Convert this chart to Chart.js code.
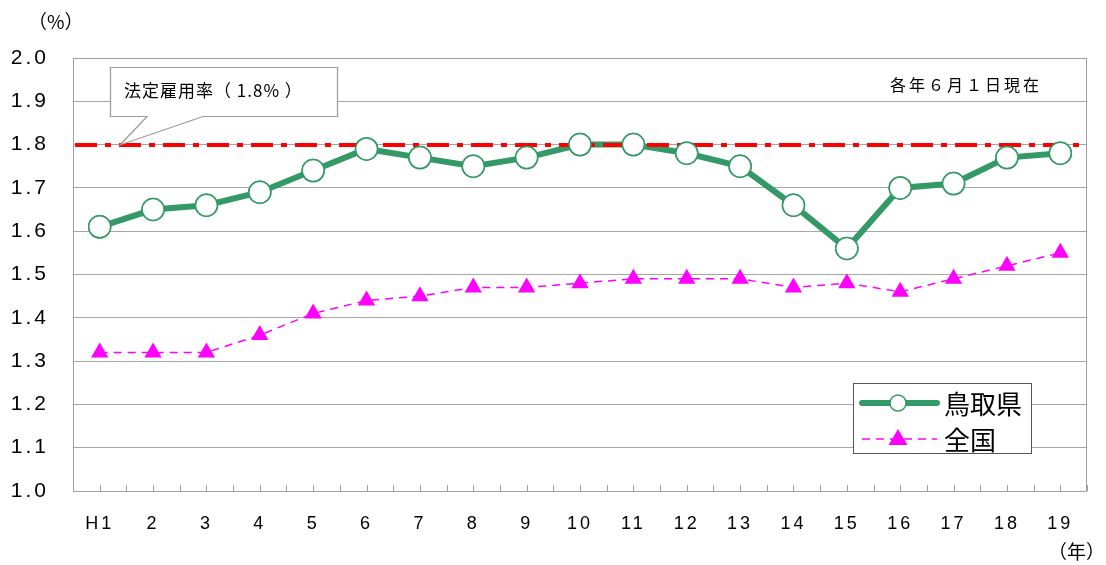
<!DOCTYPE html>
<html>
<head>
<meta charset="utf-8">
<script src="https://cdn.jsdelivr.net/npm/chart.js@4.4.1/dist/chart.umd.min.js"></script>
<style>
  html, body { margin: 0; padding: 0; background: #fff; }
  #wrap { width: 1106px; height: 565px; position: relative; }
</style>
</head>
<body>
<div id="wrap"><canvas id="myChart" width="1106" height="565"></canvas></div>
<script>
// 年（平成）
const years = ['H1', '2', '3', '4', '5', '6', '7', '8', '9', '10', '11', '12', '13', '14', '15', '16', '17', '18', '19'];
// 鳥取県の実雇用率
const tottori = [1.61, 1.65, 1.66, 1.69, 1.74, 1.79, 1.77, 1.75, 1.77, 1.80, 1.80, 1.78, 1.75, 1.66, 1.56, 1.70, 1.71, 1.77, 1.78];
// 全国の実雇用率
const national = [1.32, 1.32, 1.32, 1.36, 1.41, 1.44, 1.45, 1.47, 1.47, 1.48, 1.49, 1.49, 1.49, 1.47, 1.48, 1.46, 1.49, 1.52, 1.55];
// 法定雇用率
const legalRate = 1.8;
const legalLabel = '法定雇用率（ 1.8% ）';
const dateNote = '各年６月１日現在';
const yUnit = '（%）';
const xUnit = '（年）';

const FONT = "'Liberation Sans', Arial, 'Noto Sans CJK JP', sans-serif";
const JFONT = "'Noto Sans CJK JP', 'Liberation Sans', sans-serif";

// 枠線・目盛り・注釈を描くプラグイン
const extras = {
  id: 'extras',
  beforeDraw(chart) {
    chart.ctx.letterSpacing = '3px';
  },
  beforeDatasetsDraw(chart) {
    const { ctx, chartArea: a } = chart;
    ctx.save();
    ctx.letterSpacing = '0px';
    // 枠
    ctx.strokeStyle = '#a0a0a0';
    ctx.lineWidth = 1;
    ctx.strokeRect(a.left + 0.5, a.top + 0.5, a.right - a.left - 1, a.bottom - a.top);
    // x軸の小目盛り
    const step = (a.right - a.left) / years.length;
    for (let i = 0; i <= years.length * 2; i++) {
      const px = Math.round(a.left + step * i / 2) + 0.5;
      ctx.beginPath();
      ctx.moveTo(px, a.bottom);
      ctx.lineTo(px, a.bottom - 6);
      ctx.stroke();
    }
    ctx.restore();
  },
  afterDatasetsDraw(chart) {
    const { ctx, chartArea: a, scales } = chart;
    ctx.save();
    ctx.letterSpacing = '0px';
    // 法定雇用率の線
    const y = Math.round(scales.y.getPixelForValue(legalRate));
    ctx.strokeStyle = '#ff0000';
    ctx.lineWidth = 4;
    ctx.setLineDash([22, 8, 6, 8]);
    ctx.beginPath();
    ctx.moveTo(a.left + 2, y);
    ctx.lineTo(a.right - 2, y);
    ctx.stroke();
    ctx.setLineDash([]);
    ctx.restore();
    // 鳥取県のマーカーを線の上に描き直す
    chart.getDatasetMeta(0).data.forEach(p => p.draw(ctx, a));

    ctx.save();
    ctx.letterSpacing = '0px';
    // 吹き出し
    const tipX = a.left + 47, tipY = y;
    ctx.fillStyle = '#fff';
    ctx.strokeStyle = '#9a9a9a';
    ctx.lineWidth = 1.2;
    ctx.beginPath();
    ctx.moveTo(110.5, 67.5);
    ctx.lineTo(337.5, 67.5);
    ctx.lineTo(337.5, 116.5);
    ctx.lineTo(203, 116.5);
    ctx.lineTo(tipX, tipY);
    ctx.lineTo(147, 116.5);
    ctx.lineTo(110.5, 116.5);
    ctx.closePath();
    ctx.fill();
    ctx.stroke();
    ctx.fillStyle = '#000';
    ctx.font = '17px ' + JFONT;
    ctx.textBaseline = 'middle';
    ctx.letterSpacing = '1px';
    ctx.fillText(legalLabel, 124, 91);
    ctx.font = '16px ' + JFONT;
    ctx.letterSpacing = '3px';
    ctx.fillText(dateNote, 890, 85);
    ctx.font = '19px ' + JFONT;
    ctx.letterSpacing = '0px';
    ctx.fillText(yUnit, 28, 22);
    ctx.fillText(xUnit, 1048, 552);

    // 凡例
    const lx = 853.5, ly = 383.5, lw = 178, lh = 70;
    ctx.fillStyle = '#fff';
    ctx.fillRect(lx, ly, lw, lh);
    ctx.strokeStyle = '#555';
    ctx.lineWidth = 1;
    ctx.strokeRect(lx, ly, lw, lh);
    const ds = chart.data.datasets;
    const rows = [403, 439];
    ds.forEach((d, i) => {
      const ry = rows[i];
      ctx.strokeStyle = d.borderColor;
      ctx.lineWidth = d.borderWidth;
      ctx.setLineDash(d.borderDash || []);
      ctx.lineCap = i === 0 ? 'round' : 'butt';
      ctx.beginPath();
      ctx.moveTo(862, ry);
      ctx.lineTo(937, ry);
      ctx.stroke();
      ctx.setLineDash([]);
      ctx.lineCap = 'butt';
      ctx.fillStyle = d.pointBackgroundColor;
      ctx.strokeStyle = d.pointBorderColor;
      ctx.lineWidth = d.pointBorderWidth;
      ctx.beginPath();
      if (d.pointStyle === 'triangle') {
        const r = d.pointRadius;
        ctx.moveTo(898, ry - r);
        ctx.lineTo(898 + r * 0.95, ry + r * 0.6);
        ctx.lineTo(898 - r * 0.95, ry + r * 0.6);
        ctx.closePath();
        ctx.fill();
      } else {
        ctx.arc(898, ry, 8, 0, Math.PI * 2);
        ctx.fill();
        ctx.stroke();
      }
      ctx.fillStyle = '#000';
      ctx.font = '26px ' + JFONT;
      ctx.textBaseline = 'middle';
      ctx.fillText(d.label, 944, ry + 1);
    });
    ctx.restore();
  },
  afterDraw(chart) {
    chart.ctx.letterSpacing = '0px';
  }
};

const ctx = document.getElementById('myChart').getContext('2d');
const chart = new Chart(ctx, {
  type: 'line',
  data: {
    labels: years,
    datasets: [
      {
        label: '鳥取県',
        data: tottori,
        borderColor: '#339966',
        borderWidth: 6,
        pointStyle: 'circle',
        pointRadius: 11,
        pointBackgroundColor: '#ffffff',
        pointBorderColor: '#339966',
        pointBorderWidth: 1.5,
        tension: 0,
      },
      {
        label: '全国',
        data: national,
        borderColor: '#ff00ff',
        borderWidth: 1.5,
        borderDash: [8, 6],
        pointStyle: 'triangle',
        pointRadius: 10,
        pointBackgroundColor: '#ff00ff',
        pointBorderColor: '#ff00ff',
        pointBorderWidth: 0,
        tension: 0,
      },
    ],
  },
  options: {
    responsive: false,
    animation: false,
    layout: { padding: { top: 58, right: 19, left: 0, bottom: 0 } },
    plugins: { legend: { display: false }, tooltip: { enabled: false } },
    scales: {
      x: {
        offset: true,
        grid: { display: false, drawTicks: false },
        border: { display: false },
        ticks: { font: { family: FONT, size: 18 }, color: '#000', padding: 22, maxRotation: 0, autoSkip: false },
        afterFit(s) { s.height = 74; },
      },
      y: {
        min: 1.0,
        max: 2.0,
        grid: { color: '#a6a6a6', drawTicks: false },
        border: { display: false },
        ticks: {
          stepSize: 0.1,
          font: { family: FONT, size: 21 },
          color: '#000',
          padding: 24,
          callback: v => Number(v).toFixed(1),
        },
        afterFit(s) { s.width = 73; },
      },
    },
  },
  plugins: [extras],
});
</script>
</body>
</html>
